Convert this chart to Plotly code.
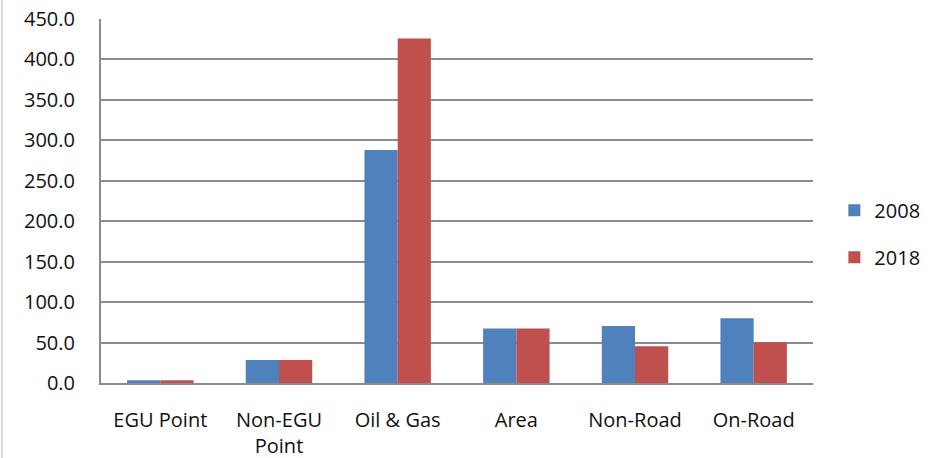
import plotly.graph_objects as go

# Emissions by source category, 2008 vs 2018
categories = ["EGU Point", "Non-EGU<br>Point", "Oil & Gas", "Area", "Non-Road", "On-Road"]
values_2008 = [3.5, 28.5, 288.0, 67.5, 70.5, 80.0]
values_2018 = [3.5, 28.5, 426.0, 67.5, 45.5, 50.5]
y_ticks = [0, 50, 100, 150, 200, 250, 300, 350, 400, 450]

FONT = "Open Sans"
BLUE = "#4F81BD"
RED = "#C0504D"
GRID = "#8C8C8C"
TEXT = "#111111"

fig = go.Figure()
fig.add_trace(go.Bar(name="2008", x=categories, y=values_2008,
                     marker=dict(color=BLUE, line=dict(width=0)),
                     legendgroup="a"))
fig.add_trace(go.Bar(name="2018", x=categories, y=values_2018,
                     marker=dict(color=RED, line=dict(width=0)),
                     legendgroup="b"))

fig.update_layout(
    width=933, height=458,
    margin=dict(l=101, r=120, t=19, b=75, autoexpand=False),
    paper_bgcolor="white", plot_bgcolor="white",
    barmode="group", bargap=0.44, bargroupgap=0,
    font=dict(family=FONT, size=20, color=TEXT),
    showlegend=True,
    legend=dict(x=1.03, xanchor="left", y=0.41, yanchor="middle",
                font=dict(family=FONT, size=20, color=TEXT),
                tracegroupgap=18, itemwidth=30,
                bgcolor="rgba(0,0,0,0)"),
    xaxis=dict(showgrid=False, showline=True, linecolor=GRID, linewidth=2,
               ticks="", tickfont=dict(size=20), ticklabelstandoff=18,
               automargin=False),
    yaxis=dict(range=[0, 450], tickvals=y_ticks,
               ticktext=[f"{v:.1f}" for v in y_ticks],
               showgrid=True, gridcolor=GRID, gridwidth=2,
               showline=True, linecolor=GRID, linewidth=2,
               zeroline=False, ticks="", ticklabelstandoff=20,
               tickfont=dict(size=20), automargin=False),
    shapes=[dict(type="line", xref="paper", yref="paper",
                 x0=-99 / 712, x1=-99 / 712, y0=-0.3, y1=1.1,
                 line=dict(color="#D9D9D9", width=2))],
)

fig.write_html("out.html")
